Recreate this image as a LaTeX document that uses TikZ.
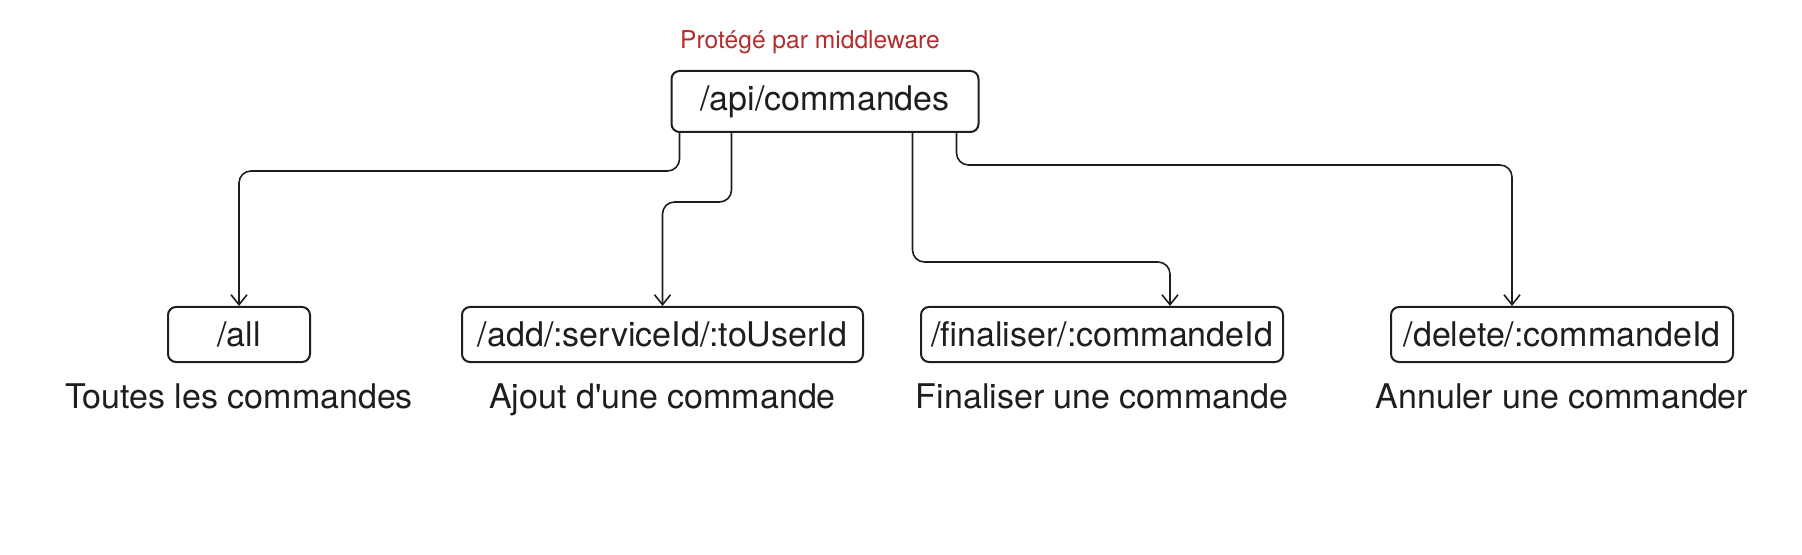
\documentclass[tikz,border=0pt]{standalone}
\usepackage{fontspec}
\setmainfont{TeX Gyre Heros}
\usepackage{tikz}
\usetikzlibrary{arrows.meta}
\usetikzlibrary{positioning}
\definecolor{inkgray}{RGB}{30,30,30}
\definecolor{mwred}{RGB}{180,45,45}

\begin{document}
\begin{tikzpicture}[
  x=0.5pt,
  y=-0.5pt,
  every node/.style={font=\fontsize{17}{20}\selectfont, text=inkgray},
  route/.style={draw=inkgray, line width=1pt, rounded corners=4pt, inner sep=0pt, minimum height=27.5pt},
  caption/.style={inner sep=0pt},
  link/.style={draw=inkgray, line width=0.8pt, rounded corners=6pt, -{Straight Barb[length=5pt,width=8pt]}}
]

\useasboundingbox (0,0) rectangle (1802,555);

\def\yrow{334.5}

\node[route, minimum width=153.5pt, minimum height=30.5pt] (api) at (825,101.5) {/api/commandes};
\node[font=\fontsize{12.3}{14}\selectfont, text=mwred] (mw) at (810,42) {Protégé par middleware};

\node[route, minimum width=71pt] (all) at (239,\yrow) {/all};
\node[route, minimum width=200.5pt] (add) at (662.5,\yrow) {/add/:serviceId/:toUserId};
\node[route, minimum width=181pt] (fin) at (1102,\yrow) {/finaliser/:commandeId};
\node[route, minimum width=171pt] (del) at (1562,\yrow) {/delete/:commandeId};

\node[caption, below=10pt of all] (allcap) {Toutes les commandes};
\node[caption, below=10pt of add] (addcap) {Ajout d\textquotesingle une commande};
\node[caption, below=10pt of fin] (fincap) {Finaliser une commande};
\node[caption, below=10pt of del] (delcap) {Annuler une commander};

\draw[link] ([xshift=4.5pt]api.south west) -- ++(0,38) -| (all.north);
\draw[link] ([xshift=30.5pt]api.south west) -- ++(0,69) -| (add.north);
\draw[link] ([xshift=-33.5pt]api.south east) -- ++(0,129) -| ([xshift=34pt]fin.north);
\draw[link] ([xshift=-11.5pt]api.south east) -- ++(0,32) -| ([xshift=-25pt]del.north);

\end{tikzpicture}
\end{document}
